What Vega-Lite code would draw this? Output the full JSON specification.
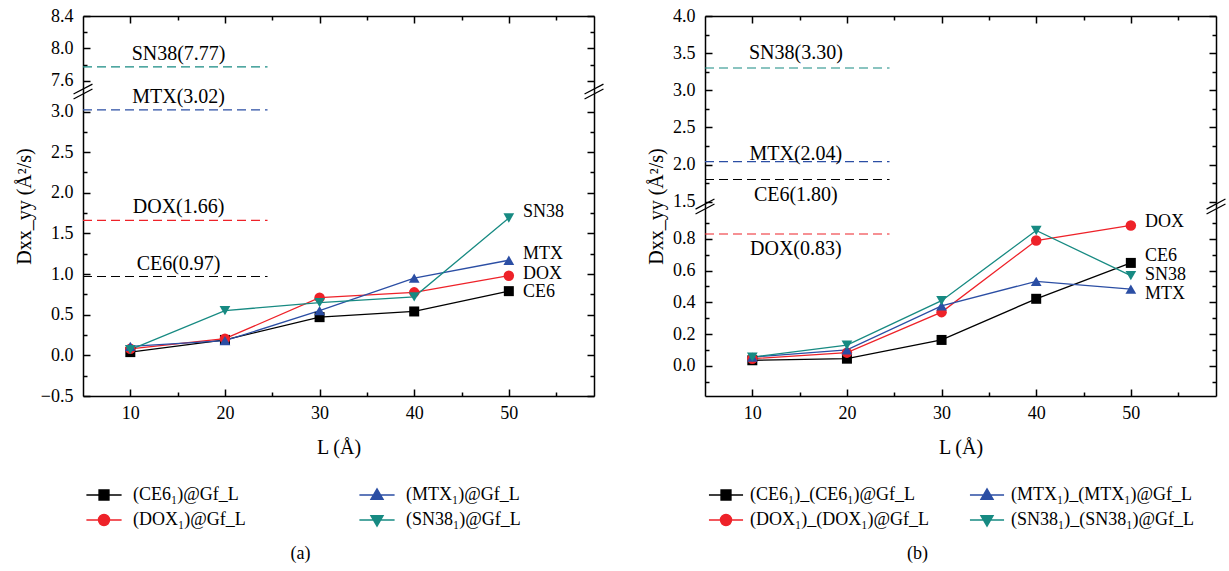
{
  "$schema": "https://vega.github.io/schema/vega-lite/v6.json",
  "padding": {"left": 14, "top": 7, "right": 2, "bottom": 2},
  "spacing": 41,
  "config": {
    "view": {"stroke": null},
    "font": "Liberation Serif",
    "axis": {"labelFont": "Liberation Serif", "labelFontSize": 18, "labelColor": "#000000", "titleFont": "Liberation Serif", "titleFontSize": 20, "titleFontWeight": "normal", "titleColor": "#000000", "domainColor": "#000000", "domainWidth": 1.5, "tickColor": "#000000", "tickWidth": 1.5, "grid": false},
    "legend": {"labelFont": "Liberation Serif", "labelFontSize": 18, "labelColor": "#000000", "labelLimit": 400},
    "title": {"font": "Liberation Serif", "fontSize": 18, "fontWeight": "normal", "color": "#000000"},
    "text": {"font": "Liberation Serif", "fontSize": 20, "color": "#000000"}
  },
  "resolve": {"scale": {"color": "independent"}, "legend": {"color": "independent"}},
  "datasets": {
    "seriesA": [
      {"s": "CE6", "L": 10, "D": 0.04}, {"s": "CE6", "L": 20, "D": 0.19}, {"s": "CE6", "L": 30, "D": 0.47}, {"s": "CE6", "L": 40, "D": 0.54}, {"s": "CE6", "L": 50, "D": 0.79},
      {"s": "DOX", "L": 10, "D": 0.08}, {"s": "DOX", "L": 20, "D": 0.205}, {"s": "DOX", "L": 30, "D": 0.71}, {"s": "DOX", "L": 40, "D": 0.775}, {"s": "DOX", "L": 50, "D": 0.98},
      {"s": "MTX", "L": 10, "D": 0.11}, {"s": "MTX", "L": 20, "D": 0.18}, {"s": "MTX", "L": 30, "D": 0.55}, {"s": "MTX", "L": 40, "D": 0.95}, {"s": "MTX", "L": 50, "D": 1.17},
      {"s": "SN38", "L": 10, "D": 0.07}, {"s": "SN38", "L": 20, "D": 0.55}, {"s": "SN38", "L": 30, "D": 0.65}, {"s": "SN38", "L": 40, "D": 0.72}, {"s": "SN38", "L": 50, "D": 1.69}
    ],
    "seriesB": [
      {"s": "CE6", "L": 10, "D": 0.035}, {"s": "CE6", "L": 20, "D": 0.045}, {"s": "CE6", "L": 30, "D": 0.163}, {"s": "CE6", "L": 40, "D": 0.422}, {"s": "CE6", "L": 50, "D": 0.648},
      {"s": "DOX", "L": 10, "D": 0.045}, {"s": "DOX", "L": 20, "D": 0.083}, {"s": "DOX", "L": 30, "D": 0.338}, {"s": "DOX", "L": 40, "D": 0.789}, {"s": "DOX", "L": 50, "D": 0.884},
      {"s": "MTX", "L": 10, "D": 0.055}, {"s": "MTX", "L": 20, "D": 0.1}, {"s": "MTX", "L": 30, "D": 0.378}, {"s": "MTX", "L": 40, "D": 0.532}, {"s": "MTX", "L": 50, "D": 0.483},
      {"s": "SN38", "L": 10, "D": 0.055}, {"s": "SN38", "L": 20, "D": 0.13}, {"s": "SN38", "L": 30, "D": 0.41}, {"s": "SN38", "L": 40, "D": 0.852}, {"s": "SN38", "L": 50, "D": 0.568}
    ],
    "refA": [
      {"s": "SN38", "v": 7.77, "lab": "SN38(7.77)"},
      {"s": "MTX", "v": 3.02, "lab": "MTX(3.02)"},
      {"s": "DOX", "v": 1.66, "lab": "DOX(1.66)"},
      {"s": "CE6", "v": 0.97, "lab": "CE6(0.97)"}
    ],
    "refB": [
      {"s": "SN38", "v": 3.30, "lab": "SN38(3.30)", "side": "above"},
      {"s": "MTX", "v": 2.04, "lab": "MTX(2.04)", "side": "on"},
      {"s": "CE6", "v": 1.80, "lab": "CE6(1.80)", "side": "below"},
      {"s": "DOX", "v": 0.83, "lab": "DOX(0.83)", "side": "below"}
    ],
    "endA": [
      {"s": "SN38", "x": 51.5, "y": 1.76},
      {"s": "MTX", "x": 51.5, "y": 1.25},
      {"s": "DOX", "x": 51.5, "y": 1.0},
      {"s": "CE6", "x": 51.5, "y": 0.775}
    ],
    "endB": [
      {"s": "DOX", "x": 51.5, "y": 0.907},
      {"s": "CE6", "x": 51.5, "y": 0.69},
      {"s": "SN38", "x": 51.5, "y": 0.572},
      {"s": "MTX", "x": 51.5, "y": 0.455}
    ],
    "breakA": [
      {"x": 4, "x2": 6, "y": 3.154, "y2": 7.497},
      {"x": 4, "x2": 6, "y": 3.215, "y2": 7.558},
      {"x": 58, "x2": 60, "y": 3.154, "y2": 7.497},
      {"x": 58, "x2": 60, "y": 3.215, "y2": 7.558}
    ],
    "breakB": [
      {"x": 4, "x2": 6, "y": 0.956, "y2": 1.47},
      {"x": 4, "x2": 6, "y": 0.987, "y2": 1.538},
      {"x": 58, "x2": 60, "y": 0.956, "y2": 1.47},
      {"x": 58, "x2": 60, "y": 0.987, "y2": 1.538}
    ]
  },
  "hconcat": [
    {
      "width": 511,
      "height": 380,
      "title": {"text": "(a)", "orient": "bottom", "anchor": "middle", "dx": -38, "offset": 16},
      "resolve": {"axis": {"x": "independent", "y": "independent"}},
      "layer": [
        {
          "data": {"name": "refA"},
          "mark": {"type": "rule", "strokeDash": [9, 5], "strokeWidth": 1.2},
          "encoding": {
            "x": {"datum": 5, "type": "quantitative", "scale": {"domain": [5, 59], "nice": false, "zero": false}, "axis": null},
            "x2": {"datum": 24.5},
            "y": {"field": "v", "type": "quantitative", "scale": {"domain": [-0.5, 3.24, 7.46, 8.4], "range": [380, 76, 76, 0], "nice": false, "zero": false}, "axis": null},
            "color": {"field": "s", "type": "nominal", "scale": {"domain": ["CE6", "DOX", "MTX", "SN38"], "range": ["#000000", "#ee2229", "#2b4ea4", "#178a82"]},
                      "legend": {"orient": "none", "legendX": 12, "legendY": 470, "columns": 2, "title": null, "symbolSize": 121, "labelOffset": 20, "columnPadding": 110, "rowPadding": 7,
                                 "labelExpr": "'(' + datum.label + '₁)@Gf_L'",
                                 "encode": {"symbols": {"update": {
                                   "shape": {"signal": "datum.value === 'CE6' ? 'M-3.2,0H3.2M-0.9,-0.9H0.9V0.9H-0.9Z' : datum.value === 'DOX' ? 'M-3.2,0H3.2M1,0A1,1,0,1,1,-1,0A1,1,0,1,1,1,0Z' : datum.value === 'MTX' ? 'M-3.2,0H3.2M0,-1.1L1.1,0.8L-1.1,0.8Z' : 'M-3.2,0H3.2M0,1.1L1.1,-0.8L-1.1,-0.8Z'"},
                                   "fill": {"signal": "datum.value === 'CE6' ? '#000000' : datum.value === 'DOX' ? '#ee2229' : datum.value === 'MTX' ? '#2b4ea4' : '#178a82'"},
                                   "stroke": {"signal": "datum.value === 'CE6' ? '#000000' : datum.value === 'DOX' ? '#ee2229' : datum.value === 'MTX' ? '#2b4ea4' : '#178a82'"},
                                   "strokeWidth": {"value": 1.4},
                                   "strokeDash": {"value": []},
                                   "opacity": {"value": 1},
                                   "fillOpacity": {"value": 1}
                                 }}}}}
          }
        },
        {
          "data": {"name": "seriesA"},
          "mark": {"type": "line", "strokeWidth": 1.3},
          "encoding": {
            "x": {"field": "L", "type": "quantitative", "scale": {"domain": [5, 59], "nice": false, "zero": false},
                  "axis": {"orient": "bottom", "values": [10, 20, 30, 40, 50], "tickSize": -7, "labelPadding": 15, "title": "L (Å)", "titlePadding": 15}},
            "y": {"field": "D", "type": "quantitative", "scale": {"domain": [-0.5, 3.24, 7.46, 8.4], "range": [380, 76, 76, 0], "nice": false, "zero": false},
                  "axis": {"orient": "left", "values": [-0.5, 0, 0.5, 1.0, 1.5, 2.0, 2.5, 3.0, 7.6, 8.0, 8.4], "format": ".1f", "tickSize": -7, "labelPadding": 17, "title": "Dxx_yy (Å²/s)", "titlePadding": 6}},
            "color": {"field": "s", "type": "nominal"}
          }
        },
        {
          "data": {"name": "seriesA"},
          "transform": [{"filter": "datum.s === 'CE6'"}],
          "mark": {"type": "point", "shape": "square", "filled": true, "opacity": 1, "size": 100},
          "encoding": {
            "x": {"field": "L", "type": "quantitative", "axis": {"orient": "bottom", "values": [15, 25, 35, 45, 55], "tickSize": -4, "labels": false, "domain": false, "title": null}},
            "y": {"field": "D", "type": "quantitative", "axis": {"orient": "left", "values": [-0.25, 0.25, 0.75, 1.25, 1.75, 2.25, 2.75, 7.8, 8.2], "tickSize": -4, "labels": false, "domain": false, "title": null}},
            "color": {"field": "s", "type": "nominal"}
          }
        },
        {
          "data": {"name": "seriesA"},
          "transform": [{"filter": "datum.s === 'DOX'"}],
          "mark": {"type": "point", "shape": "circle", "filled": true, "opacity": 1, "size": 110},
          "encoding": {
            "x": {"field": "L", "type": "quantitative", "axis": null},
            "y": {"field": "D", "type": "quantitative", "axis": null},
            "color": {"field": "s", "type": "nominal"}
          }
        },
        {
          "data": {"name": "seriesA"},
          "transform": [{"filter": "datum.s === 'MTX'"}],
          "mark": {"type": "point", "shape": "triangle-up", "filled": true, "opacity": 1, "size": 115},
          "encoding": {
            "x": {"field": "L", "type": "quantitative", "axis": null},
            "y": {"field": "D", "type": "quantitative", "axis": null},
            "color": {"field": "s", "type": "nominal"}
          }
        },
        {
          "data": {"name": "seriesA"},
          "transform": [{"filter": "datum.s === 'SN38'"}],
          "mark": {"type": "point", "shape": "triangle-down", "filled": true, "opacity": 1, "size": 115},
          "encoding": {
            "x": {"field": "L", "type": "quantitative", "axis": null},
            "y": {"field": "D", "type": "quantitative", "axis": null},
            "color": {"field": "s", "type": "nominal"}
          }
        },
        {
          "data": {"name": "refA"},
          "mark": {"type": "text", "align": "center", "baseline": "alphabetic", "dy": -7, "fontSize": 20},
          "encoding": {
            "x": {"datum": 15.1, "type": "quantitative", "axis": null},
            "y": {"field": "v", "type": "quantitative", "axis": null},
            "text": {"field": "lab"}
          }
        },
        {
          "data": {"name": "endA"},
          "mark": {"type": "text", "align": "left", "baseline": "middle", "fontSize": 18},
          "encoding": {
            "x": {"field": "x", "type": "quantitative", "axis": {"orient": "top", "values": [10, 20, 30, 40, 50], "tickSize": -7, "labels": false, "domain": true, "title": null}},
            "y": {"field": "y", "type": "quantitative", "axis": {"orient": "right", "values": [-0.5, 0, 0.5, 1.0, 1.5, 2.0, 2.5, 3.0, 7.6, 8.0, 8.4], "tickSize": -7, "labels": false, "domain": true, "title": null}},
            "text": {"field": "s"}
          }
        },
        {
          "data": {"name": "breakA"},
          "mark": {"type": "rule", "color": "#000000", "strokeWidth": 1.3},
          "encoding": {
            "x": {"field": "x", "type": "quantitative", "axis": {"orient": "top", "values": [15, 25, 35, 45, 55], "tickSize": -4, "labels": false, "domain": false, "title": null}},
            "x2": {"field": "x2"},
            "y": {"field": "y", "type": "quantitative", "axis": {"orient": "right", "values": [-0.25, 0.25, 0.75, 1.25, 1.75, 2.25, 2.75, 7.8, 8.2], "tickSize": -4, "labels": false, "domain": false, "title": null}},
            "y2": {"field": "y2"}
          }
        }
      ]
    },
    {
      "width": 511,
      "height": 380,
      "title": {"text": "(b)", "orient": "bottom", "anchor": "middle", "dx": -43, "offset": 16},
      "resolve": {"axis": {"x": "independent", "y": "independent"}},
      "layer": [
        {
          "data": {"name": "refB"},
          "mark": {"type": "rule", "strokeDash": [9, 5], "strokeWidth": 1.2},
          "encoding": {
            "x": {"datum": 5, "type": "quantitative", "scale": {"domain": [5, 59], "nice": false, "zero": false}, "axis": null},
            "x2": {"datum": 24.5},
            "y": {"field": "v", "type": "quantitative", "scale": {"domain": [-0.19, 1.0, 1.43, 4.0], "range": [380, 191, 191, 0], "nice": false, "zero": false}, "axis": null},
            "color": {"field": "s", "type": "nominal", "scale": {"domain": ["CE6", "DOX", "MTX", "SN38"], "range": ["#000000", "#ee2229", "#2b4ea4", "#178a82"]},
                      "legend": {"orient": "none", "legendX": 12, "legendY": 470, "columns": 2, "title": null, "symbolSize": 121, "labelOffset": 15, "columnPadding": 37, "rowPadding": 7,
                                 "labelExpr": "'(' + datum.label + '₁)_(' + datum.label + '₁)@Gf_L'",
                                 "encode": {"symbols": {"update": {
                                   "shape": {"signal": "datum.value === 'CE6' ? 'M-3.1,0H3.1M-0.9,-0.9H0.9V0.9H-0.9Z' : datum.value === 'DOX' ? 'M-3.1,0H3.1M1,0A1,1,0,1,1,-1,0A1,1,0,1,1,1,0Z' : datum.value === 'MTX' ? 'M-3.1,0H3.1M0,-1.1L1.1,0.8L-1.1,0.8Z' : 'M-3.1,0H3.1M0,1.1L1.1,-0.8L-1.1,-0.8Z'"},
                                   "fill": {"signal": "datum.value === 'CE6' ? '#000000' : datum.value === 'DOX' ? '#ee2229' : datum.value === 'MTX' ? '#2b4ea4' : '#178a82'"},
                                   "stroke": {"signal": "datum.value === 'CE6' ? '#000000' : datum.value === 'DOX' ? '#ee2229' : datum.value === 'MTX' ? '#2b4ea4' : '#178a82'"},
                                   "strokeWidth": {"value": 1.4},
                                   "strokeDash": {"value": []},
                                   "opacity": {"value": 1},
                                   "fillOpacity": {"value": 1}
                                 }}}}}
          }
        },
        {
          "data": {"name": "seriesB"},
          "mark": {"type": "line", "strokeWidth": 1.3},
          "encoding": {
            "x": {"field": "L", "type": "quantitative", "scale": {"domain": [5, 59], "nice": false, "zero": false},
                  "axis": {"orient": "bottom", "values": [10, 20, 30, 40, 50], "tickSize": -7, "labelPadding": 15, "title": "L (Å)", "titlePadding": 15}},
            "y": {"field": "D", "type": "quantitative", "scale": {"domain": [-0.19, 1.0, 1.43, 4.0], "range": [380, 191, 191, 0], "nice": false, "zero": false},
                  "axis": {"orient": "left", "values": [0, 0.2, 0.4, 0.6, 0.8, 1.5, 2.0, 2.5, 3.0, 3.5, 4.0], "format": ".1f", "tickSize": -7, "labelPadding": 17, "title": "Dxx_yy (Å²/s)", "titlePadding": 6}},
            "color": {"field": "s", "type": "nominal"}
          }
        },
        {
          "data": {"name": "seriesB"},
          "transform": [{"filter": "datum.s === 'CE6'"}],
          "mark": {"type": "point", "shape": "square", "filled": true, "opacity": 1, "size": 100},
          "encoding": {
            "x": {"field": "L", "type": "quantitative", "axis": {"orient": "bottom", "values": [15, 25, 35, 45, 55], "tickSize": -4, "labels": false, "domain": false, "title": null}},
            "y": {"field": "D", "type": "quantitative", "axis": {"orient": "left", "values": [-0.1, 0.1, 0.3, 0.5, 0.7, 0.9, 1.75, 2.25, 2.75, 3.25, 3.75], "tickSize": -4, "labels": false, "domain": false, "title": null}},
            "color": {"field": "s", "type": "nominal"}
          }
        },
        {
          "data": {"name": "seriesB"},
          "transform": [{"filter": "datum.s === 'DOX'"}],
          "mark": {"type": "point", "shape": "circle", "filled": true, "opacity": 1, "size": 110},
          "encoding": {
            "x": {"field": "L", "type": "quantitative", "axis": null},
            "y": {"field": "D", "type": "quantitative", "axis": null},
            "color": {"field": "s", "type": "nominal"}
          }
        },
        {
          "data": {"name": "seriesB"},
          "transform": [{"filter": "datum.s === 'MTX'"}],
          "mark": {"type": "point", "shape": "triangle-up", "filled": true, "opacity": 1, "size": 115},
          "encoding": {
            "x": {"field": "L", "type": "quantitative", "axis": null},
            "y": {"field": "D", "type": "quantitative", "axis": null},
            "color": {"field": "s", "type": "nominal"}
          }
        },
        {
          "data": {"name": "seriesB"},
          "transform": [{"filter": "datum.s === 'SN38'"}],
          "mark": {"type": "point", "shape": "triangle-down", "filled": true, "opacity": 1, "size": 115},
          "encoding": {
            "x": {"field": "L", "type": "quantitative", "axis": null},
            "y": {"field": "D", "type": "quantitative", "axis": null},
            "color": {"field": "s", "type": "nominal"}
          }
        },
        {
          "data": {"name": "refB"},
          "transform": [{"filter": "datum.side === 'above'"}],
          "mark": {"type": "text", "align": "center", "baseline": "alphabetic", "dy": -9, "fontSize": 20},
          "encoding": {
            "x": {"datum": 14.6, "type": "quantitative", "axis": null},
            "y": {"field": "v", "type": "quantitative", "axis": null},
            "text": {"field": "lab"}
          }
        },
        {
          "data": {"name": "refB"},
          "transform": [{"filter": "datum.side === 'on'"}],
          "mark": {"type": "text", "align": "center", "baseline": "alphabetic", "dy": -2, "fontSize": 20},
          "encoding": {
            "x": {"datum": 14.6, "type": "quantitative", "axis": null},
            "y": {"field": "v", "type": "quantitative", "axis": null},
            "text": {"field": "lab"}
          }
        },
        {
          "data": {"name": "refB"},
          "transform": [{"filter": "datum.side === 'below'"}],
          "mark": {"type": "text", "align": "center", "baseline": "alphabetic", "dy": 21, "fontSize": 20},
          "encoding": {
            "x": {"datum": 14.6, "type": "quantitative", "axis": null},
            "y": {"field": "v", "type": "quantitative", "axis": null},
            "text": {"field": "lab"}
          }
        },
        {
          "data": {"name": "endB"},
          "mark": {"type": "text", "align": "left", "baseline": "middle", "fontSize": 18},
          "encoding": {
            "x": {"field": "x", "type": "quantitative", "axis": {"orient": "top", "values": [10, 20, 30, 40, 50], "tickSize": -7, "labels": false, "domain": true, "title": null}},
            "y": {"field": "y", "type": "quantitative", "axis": {"orient": "right", "values": [0, 0.2, 0.4, 0.6, 0.8, 1.5, 2.0, 2.5, 3.0, 3.5, 4.0], "tickSize": -7, "labels": false, "domain": true, "title": null}},
            "text": {"field": "s"}
          }
        },
        {
          "data": {"name": "breakB"},
          "mark": {"type": "rule", "color": "#000000", "strokeWidth": 1.3},
          "encoding": {
            "x": {"field": "x", "type": "quantitative", "axis": {"orient": "top", "values": [15, 25, 35, 45, 55], "tickSize": -4, "labels": false, "domain": false, "title": null}},
            "x2": {"field": "x2"},
            "y": {"field": "y", "type": "quantitative", "axis": {"orient": "right", "values": [-0.1, 0.1, 0.3, 0.5, 0.7, 0.9, 1.75, 2.25, 2.75, 3.25, 3.75], "tickSize": -4, "labels": false, "domain": false, "title": null}},
            "y2": {"field": "y2"}
          }
        }
      ]
    }
  ]
}
